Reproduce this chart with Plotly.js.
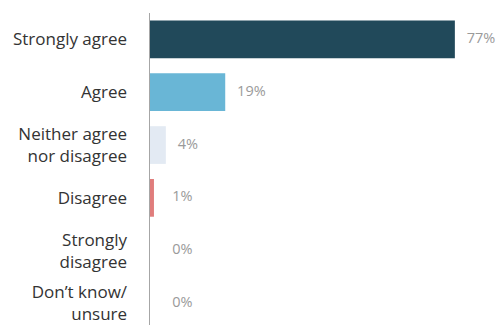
<!DOCTYPE html>
<html>
<head>
<meta charset="utf-8">
<script src="https://cdn.plot.ly/plotly-3.0.1.min.js"></script>
<style>html,body{margin:0;padding:0;background:#fff;}#chart{width:500px;height:325px;}</style>
</head>
<body>
<div id="chart"></div>
<script>
var categories = ["Strongly agree", "Agree", "Neither agree<br>nor disagree", "Disagree", "Strongly<br>disagree", "Don\u2019t know/<br>unsure"];
var values = [77, 19, 4, 1, 0, 0];
var valueLabels = ["77%", "19%", "4%", "1%", "0%", "0%"];
var barColors = ["#21495a", "#69b6d6", "#e3eaf3", "#e07d7c", "#b03a3a", "#9a9a9a"];

var labelX = values.map(function (v) { return Math.max(v + 3, 5.6); });

var bars = {
  type: "bar",
  orientation: "h",
  x: values,
  y: categories,
  marker: { color: barColors, line: { width: 0 } },
  hoverinfo: "none"
};

var labels = {
  type: "scatter",
  mode: "text",
  x: labelX,
  y: categories,
  text: valueLabels,
  textposition: "middle right",
  textfont: { family: "Open Sans, sans-serif", size: 14.5, color: "#9a9a9a" },
  cliponaxis: false,
  hoverinfo: "none"
};

var layout = {
  width: 500,
  height: 325,
  margin: { l: 150, r: 0, t: 13, b: 0, pad: 0 },
  paper_bgcolor: "#fff",
  plot_bgcolor: "#fff",
  showlegend: false,
  bargap: 0.286,
  xaxis: {
    range: [0, 88.4],
    showgrid: false,
    zeroline: false,
    showline: false,
    showticklabels: false,
    ticks: "",
    fixedrange: true
  },
  yaxis: {
    type: "category",
    range: [5.407, -0.5],
    showgrid: false,
    zeroline: false,
    showline: true,
    linecolor: "#a6a6a6",
    linewidth: 1.5,
    ticks: "",
    ticklabelstandoff: 18,
    tickfont: { family: "Open Sans, sans-serif", size: 17, color: "#333333" },
    fixedrange: true
  }
};

Plotly.newPlot("chart", [bars, labels], layout, { displayModeBar: false, staticPlot: true });
</script>
</body>
</html>
